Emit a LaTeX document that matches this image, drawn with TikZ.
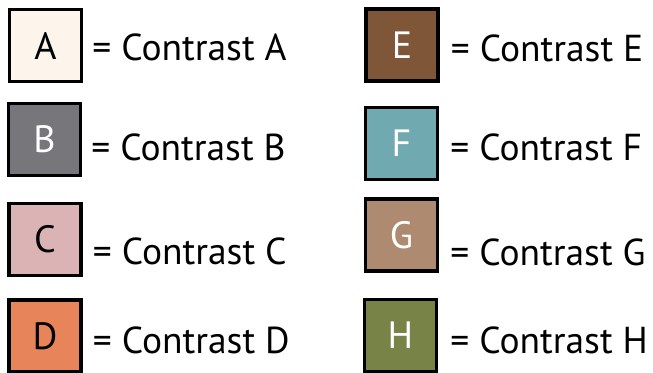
\documentclass[tikz,border=0pt]{standalone}
\usepackage{fontspec}
\setmainfont{PT Sans}
\usetikzlibrary{positioning}

\definecolor{contrastA}{HTML}{FDF5EC}
\definecolor{contrastB}{HTML}{77777B}
\definecolor{contrastC}{HTML}{DBB3B4}
\definecolor{contrastD}{HTML}{E8845A}
\definecolor{contrastE}{HTML}{7F5638}
\definecolor{contrastF}{HTML}{70AAB0}
\definecolor{contrastG}{HTML}{AE8A70}
\definecolor{contrastH}{HTML}{788447}

\begin{document}
\begin{tikzpicture}[x=1pt,y=-1pt,
    swatch/.style={draw,line width=3.5pt,minimum size=72pt,inner sep=0pt,font=\fontsize{38}{40}\selectfont},
    legend/.style={inner sep=0pt,font=\fontsize{37.5}{40}\selectfont}]
    \useasboundingbox (0,0) rectangle (653,372);
        % left column
        \node[swatch,fill=contrastA]            (A) at (45.5,45.5)  {A};
        \node[swatch,fill=contrastB,text=white] (B) at (44.5,139.5) {B};
        \node[swatch,fill=contrastC]            (C) at (45,239.5)   {C};
        \node[swatch,fill=contrastD]            (D) at (45,336)     {D};
        % right column
        \node[swatch,fill=contrastE,text=white] (E) at (402,45)     {E};
        \node[swatch,fill=contrastF,text=white] (F) at (401.5,143.5) {F};
        \node[swatch,fill=contrastG,text=white] (G) at (401.5,235)  {G};
        \node[swatch,fill=contrastH,text=white] (H) at (400.5,335.5) {H};
        % legend texts
        \node[legend] (tA) [right=9pt of A,yshift=-1.5pt] {= Contrast A};
        \node[legend] (tB) [right=9pt of B,yshift=-8pt]   {= Contrast B};
        \node[legend] (tC) [right=10pt of C,yshift=-12pt] {= Contrast C};
        \node[legend] (tD) [right=10pt of D,yshift=-4pt]  {= Contrast D};
        \node[legend] (tE) [right=11pt of E,yshift=-3pt]  {= Contrast E};
        \node[legend] (tF) [right=11pt of F,yshift=-3.5pt] {= Contrast F};
        \node[legend] (tG) [right=11pt of G,yshift=-17pt] {= Contrast G};
        \node[legend] (tH) [right=12pt of H,yshift=-4.5pt] {= Contrast H};
\end{tikzpicture}
\end{document}
